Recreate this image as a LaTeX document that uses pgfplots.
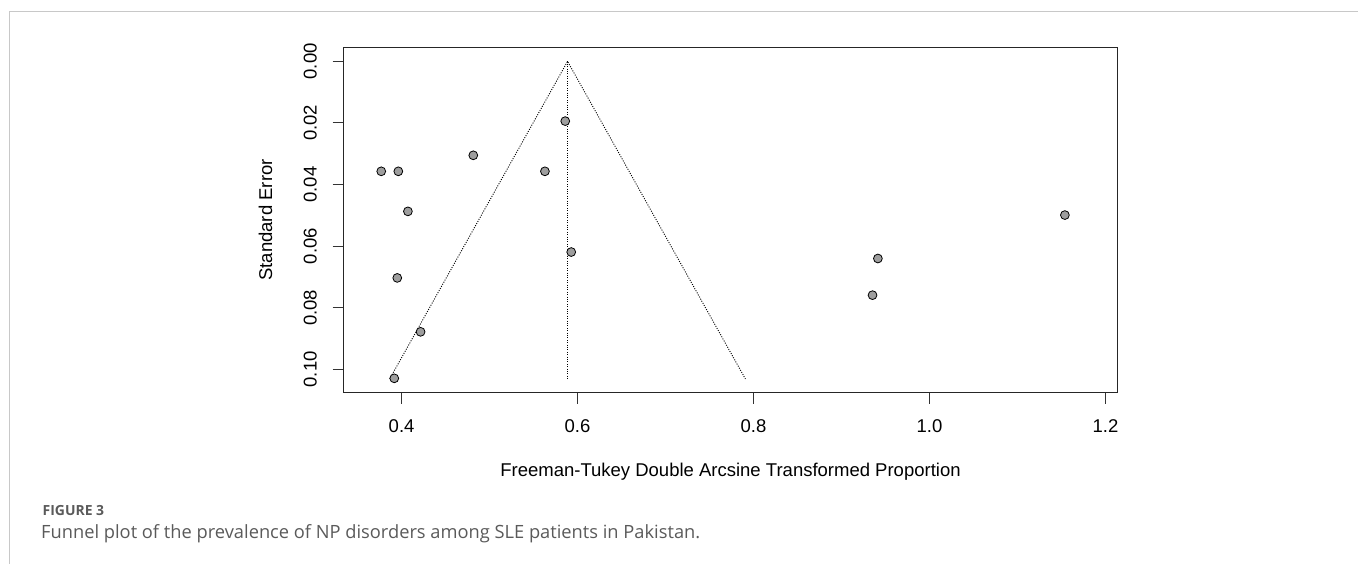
\documentclass[border=0pt]{standalone}
\usepackage{pgfplots}
\pgfplotsset{compat=1.18}
\usepackage{graphicx}
\usepackage{fontspec}
\setmainfont{Liberation Sans}
\newfontfamily\capfont{Open Sans}
\definecolor{ptfill}{HTML}{9E9E9E}
\definecolor{capgray}{HTML}{5A5A5A}
\definecolor{framegray}{HTML}{C8C8C8}
\begin{document}
\begin{tikzpicture}[x=1pt,y=1pt]
\draw[framegray, line width=1.3pt] (9.7,0) -- (9.7,552.5) -- (1358,552.5);
\node[anchor=base west, inner sep=0pt, text=capgray] at (42.5,48) {\resizebox{61.5pt}{!}{\capfont\bfseries\fontsize{12.5}{14}\selectfont FIGURE 3}};
\node[anchor=base west, inner sep=0pt, text=capgray] at (41,25.7) {\resizebox{659pt}{!}{\capfont\fontsize{14}{16}\selectfont Funnel plot of the prevalence of NP disorders among SLE patients in Pakistan.}};
\begin{axis}[
  at={(343.5pt,171.5pt)}, anchor=south west,
  scale only axis, width=774pt, height=345pt,
  xmin=0.3340, xmax=1.2136, ymin=-0.0045, ymax=0.1075,
  y dir=reverse,
  axis line style={black!85, line width=1pt},
  xtick={0.4,0.6,0.8,1.0,1.2},
  xticklabels={0.4,0.6,0.8,1.0,1.2},
  ytick={0,0.02,0.04,0.06,0.08,0.10},
  yticklabels={0.00,0.02,0.04,0.06,0.08,0.10},
  tick pos=left, tick align=outside, major tick length=11pt,
  every tick/.style={black!80, line width=1pt},
  tick label style={font=\fontsize{18.5}{18.5}\selectfont},
  yticklabel style={rotate=90, anchor=base, inner sep=0pt},
  xticklabel style={anchor=north, inner sep=0pt},
  xticklabel shift=16pt, yticklabel shift=16pt,
  xlabel={Freeman-Tukey Double Arcsine Transformed Proportion},
  ylabel={Standard Error},
  every axis x label/.style={at={(axis description cs:0.5,0)}, anchor=base, yshift=-84.5pt, inner sep=0pt, font=\fontsize{18.5}{18.5}\selectfont},
  every axis y label/.style={at={(axis description cs:0,0.5)}, anchor=base, xshift=-71.5pt, rotate=90, inner sep=0pt, font=\fontsize{18.5}{18.5}\selectfont},
  clip=false,
]
\addplot[only marks, mark=*, mark size=4.4pt, mark options={fill=ptfill, draw=black, line width=0.8pt}] coordinates {
(0.3769,0.0357) (0.3963,0.0357) (0.4072,0.0487) (0.3951,0.0703)
(0.4815,0.0305) (0.5629,0.0357) (0.5860,0.0194) (0.5928,0.0619)
(0.4216,0.0878) (0.3917,0.1029) (1.1538,0.0499) (0.9413,0.0640)
(0.9352,0.0759)
};
\addplot[black, line width=0.9pt, dash pattern=on 1pt off 1.4pt] coordinates {(0.3865,0.1031) (0.5886,0) (0.7907,0.1031)};
\addplot[black, line width=0.9pt, dash pattern=on 1pt off 1.4pt] coordinates {(0.5886,0) (0.5886,0.1031)};
\end{axis}
\pgfresetboundingbox
\path (0,0) rectangle (1358,564);
\end{tikzpicture}
\end{document}
